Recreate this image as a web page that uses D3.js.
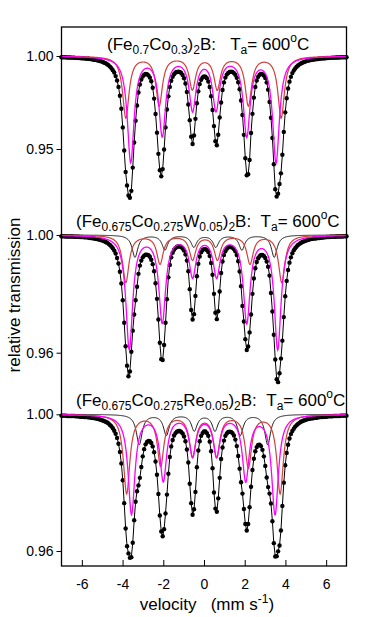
<!DOCTYPE html>
<html>
<head>
<meta charset="utf-8">
<script src="https://cdn.jsdelivr.net/npm/d3@7/dist/d3.min.js"></script>
<style>
  body { margin: 0; background: #fff; }
  text { font-family: "Liberation Sans", Arial, sans-serif; fill: #000; }
</style>
</head>
<body>
<svg id="chart" width="374" height="617"></svg>
<script>
// velocity axis
const xTicks = [-6, -4, -2, 0, 2, 4, 6];

// channel grid of the measured points (mm/s)
const velStart = -7.0;
const velStep = 0.07;

// titles: [text, kind] kind = "" | "sub" | "sup"
const title1 = [["(Fe", ""], ["0.7", "sub"], ["Co", ""], ["0.3", "sub"], [")", ""], ["2", "sub"],
  ["B:\u00A0\u00A0\u00A0T", ""], ["a", "sub"], ["=\u00A0600", ""], ["o", "sup"], ["C", ""]];
const title2 = [["(Fe", ""], ["0.675", "sub"], ["Co", ""], ["0.275", "sub"], ["W", ""], ["0.05", "sub"], [")", ""], ["2", "sub"],
  ["B:\u00A0\u00A0T", ""], ["a", "sub"], ["=\u00A0600", ""], ["o", "sup"], ["C", ""]];
const title3 = [["(Fe", ""], ["0.675", "sub"], ["Co", ""], ["0.275", "sub"], ["Re", ""], ["0.05", "sub"], [")", ""], ["2", "sub"],
  ["B:\u00A0\u00A0T", ""], ["a", "sub"], ["=\u00A0600", ""], ["o", "sup"], ["C", ""]];

// y tick values per panel
const ticks1 = [1.00, 0.95];
const ticks2 = [1.00, 0.96];
const ticks3 = [1.00, 0.96];

// measured relative transmission, one value per channel
const p1Trans = [
  0.9993, 0.9993, 0.9993, 0.9993, 0.9992, 0.9992, 0.9992, 0.9991, 0.9991, 0.9991, 0.9990, 0.9990,
  0.9989, 0.9989, 0.9988, 0.9988, 0.9987, 0.9986, 0.9985, 0.9985, 0.9984, 0.9983, 0.9981, 0.9980,
  0.9979, 0.9977, 0.9975, 0.9973, 0.9971, 0.9968, 0.9964, 0.9961, 0.9956, 0.9950, 0.9943, 0.9935,
  0.9924, 0.9911, 0.9892, 0.9868, 0.9834, 0.9786, 0.9716, 0.9616, 0.9492, 0.9376, 0.9304, 0.9250,
  0.9238, 0.9275, 0.9400, 0.9535, 0.9652, 0.9734, 0.9804, 0.9847, 0.9874, 0.9890, 0.9899, 0.9903,
  0.9902, 0.9896, 0.9884, 0.9864, 0.9829, 0.9771, 0.9688, 0.9588, 0.9474, 0.9386, 0.9353, 0.9392,
  0.9497, 0.9616, 0.9712, 0.9783, 0.9834, 0.9867, 0.9888, 0.9902, 0.9911, 0.9914, 0.9916, 0.9914,
  0.9909, 0.9898, 0.9880, 0.9852, 0.9807, 0.9739, 0.9655, 0.9566, 0.9527, 0.9573, 0.9662, 0.9746,
  0.9810, 0.9849, 0.9872, 0.9885, 0.9890, 0.9889, 0.9880, 0.9863, 0.9833, 0.9784, 0.9710, 0.9623,
  0.9542, 0.9520, 0.9577, 0.9669, 0.9750, 0.9817, 0.9858, 0.9884, 0.9900, 0.9909, 0.9914, 0.9916,
  0.9914, 0.9908, 0.9899, 0.9883, 0.9859, 0.9821, 0.9761, 0.9683, 0.9576, 0.9450, 0.9359, 0.9364,
  0.9441, 0.9586, 0.9689, 0.9776, 0.9834, 0.9868, 0.9888, 0.9899, 0.9903, 0.9902, 0.9895, 0.9882,
  0.9858, 0.9819, 0.9753, 0.9668, 0.9559, 0.9418, 0.9284, 0.9244, 0.9260, 0.9312, 0.9369, 0.9469,
  0.9592, 0.9697, 0.9773, 0.9825, 0.9862, 0.9888, 0.9908, 0.9922, 0.9933, 0.9942, 0.9949, 0.9955,
  0.9960, 0.9964, 0.9967, 0.9970, 0.9973, 0.9975, 0.9977, 0.9978, 0.9980, 0.9981, 0.9982, 0.9983,
  0.9984, 0.9985, 0.9986, 0.9987, 0.9987, 0.9988, 0.9989, 0.9989, 0.9990, 0.9990, 0.9991, 0.9991,
  0.9991, 0.9992, 0.9992, 0.9992, 0.9993, 0.9993, 0.9993, 0.9993, 0.9993
];
const p2Trans = [
  0.9996, 0.9996, 0.9996, 0.9995, 0.9995, 0.9995, 0.9995, 0.9995, 0.9995, 0.9994, 0.9994, 0.9994,
  0.9994, 0.9993, 0.9993, 0.9993, 0.9992, 0.9992, 0.9992, 0.9991, 0.9990, 0.9990, 0.9989, 0.9988,
  0.9987, 0.9986, 0.9985, 0.9984, 0.9982, 0.9981, 0.9979, 0.9976, 0.9974, 0.9970, 0.9966, 0.9961,
  0.9955, 0.9947, 0.9937, 0.9922, 0.9903, 0.9875, 0.9835, 0.9778, 0.9702, 0.9622, 0.9556, 0.9520,
  0.9536, 0.9603, 0.9675, 0.9730, 0.9778, 0.9824, 0.9868, 0.9896, 0.9913, 0.9924, 0.9930, 0.9933,
  0.9933, 0.9931, 0.9926, 0.9916, 0.9901, 0.9877, 0.9836, 0.9783, 0.9713, 0.9634, 0.9578, 0.9575,
  0.9626, 0.9702, 0.9782, 0.9856, 0.9898, 0.9924, 0.9940, 0.9950, 0.9956, 0.9960, 0.9961, 0.9961,
  0.9959, 0.9954, 0.9947, 0.9934, 0.9913, 0.9877, 0.9816, 0.9745, 0.9713, 0.9731, 0.9793, 0.9860,
  0.9902, 0.9927, 0.9941, 0.9949, 0.9952, 0.9952, 0.9949, 0.9942, 0.9929, 0.9905, 0.9865, 0.9800,
  0.9736, 0.9714, 0.9741, 0.9808, 0.9871, 0.9910, 0.9932, 0.9945, 0.9953, 0.9958, 0.9959, 0.9959,
  0.9957, 0.9952, 0.9945, 0.9932, 0.9911, 0.9876, 0.9826, 0.9759, 0.9706, 0.9646, 0.9609, 0.9621,
  0.9669, 0.9730, 0.9800, 0.9852, 0.9887, 0.9908, 0.9921, 0.9928, 0.9932, 0.9932, 0.9929, 0.9922,
  0.9910, 0.9892, 0.9862, 0.9803, 0.9740, 0.9661, 0.9577, 0.9510, 0.9500, 0.9530, 0.9580, 0.9641,
  0.9721, 0.9792, 0.9844, 0.9881, 0.9906, 0.9924, 0.9938, 0.9948, 0.9955, 0.9961, 0.9966, 0.9970,
  0.9973, 0.9976, 0.9978, 0.9980, 0.9982, 0.9983, 0.9985, 0.9986, 0.9987, 0.9988, 0.9988, 0.9989,
  0.9990, 0.9990, 0.9991, 0.9991, 0.9992, 0.9992, 0.9993, 0.9993, 0.9993, 0.9994, 0.9994, 0.9994,
  0.9994, 0.9995, 0.9995, 0.9995, 0.9995, 0.9995, 0.9996, 0.9996, 0.9996
];
const p3Trans = [
  0.9996, 0.9996, 0.9996, 0.9996, 0.9995, 0.9995, 0.9995, 0.9995, 0.9995, 0.9995, 0.9994, 0.9994,
  0.9994, 0.9993, 0.9993, 0.9993, 0.9992, 0.9992, 0.9992, 0.9991, 0.9991, 0.9990, 0.9989, 0.9989,
  0.9988, 0.9987, 0.9986, 0.9985, 0.9983, 0.9982, 0.9980, 0.9978, 0.9976, 0.9973, 0.9969, 0.9965,
  0.9959, 0.9952, 0.9943, 0.9931, 0.9914, 0.9890, 0.9856, 0.9807, 0.9740, 0.9666, 0.9614, 0.9593,
  0.9580, 0.9582, 0.9624, 0.9690, 0.9744, 0.9775, 0.9792, 0.9814, 0.9846, 0.9877, 0.9898, 0.9912,
  0.9919, 0.9922, 0.9921, 0.9916, 0.9906, 0.9889, 0.9862, 0.9823, 0.9767, 0.9704, 0.9657, 0.9643,
  0.9664, 0.9710, 0.9765, 0.9826, 0.9875, 0.9906, 0.9925, 0.9938, 0.9945, 0.9949, 0.9951, 0.9951,
  0.9948, 0.9944, 0.9935, 0.9921, 0.9897, 0.9859, 0.9797, 0.9740, 0.9706, 0.9722, 0.9773, 0.9845,
  0.9894, 0.9921, 0.9937, 0.9945, 0.9950, 0.9950, 0.9945, 0.9937, 0.9920, 0.9892, 0.9842, 0.9771,
  0.9724, 0.9715, 0.9754, 0.9814, 0.9869, 0.9903, 0.9923, 0.9937, 0.9944, 0.9948, 0.9949, 0.9948,
  0.9945, 0.9938, 0.9926, 0.9907, 0.9878, 0.9841, 0.9801, 0.9768, 0.9723, 0.9679, 0.9660, 0.9679,
  0.9728, 0.9788, 0.9837, 0.9870, 0.9892, 0.9904, 0.9910, 0.9911, 0.9907, 0.9896, 0.9877, 0.9849,
  0.9815, 0.9787, 0.9768, 0.9739, 0.9687, 0.9623, 0.9584, 0.9585, 0.9599, 0.9616, 0.9660, 0.9732,
  0.9800, 0.9851, 0.9887, 0.9911, 0.9929, 0.9942, 0.9951, 0.9958, 0.9964, 0.9968, 0.9972, 0.9975,
  0.9978, 0.9980, 0.9982, 0.9983, 0.9985, 0.9986, 0.9987, 0.9988, 0.9988, 0.9989, 0.9990, 0.9990,
  0.9991, 0.9992, 0.9992, 0.9992, 0.9993, 0.9993, 0.9993, 0.9994, 0.9994, 0.9994, 0.9994, 0.9995,
  0.9995, 0.9995, 0.9995, 0.9995, 0.9996, 0.9996, 0.9996, 0.9996, 0.9996
];

// fitted sub-spectra: sextet lines [velocity, depth]
const p1Magenta = [[-3.60, 0.0565], [-2.05, 0.0420], [-0.56, 0.0280], [0.59, 0.0280], [2.10, 0.0420], [3.54, 0.0565]];
const p1Red     = [[-3.84, 0.0330], [-2.20, 0.0262], [-0.57, 0.0174], [0.65, 0.0174], [2.18, 0.0262], [3.79, 0.0330]];

const p2Magenta = [[-3.67, 0.0385], [-2.05, 0.0292], [-0.56, 0.0135], [0.62, 0.0135], [2.10, 0.0292], [3.62, 0.0385]];
const p2Red     = [[-3.84, 0.0160], [-2.16, 0.0096], [-0.56, 0.0082], [0.66, 0.0082], [2.26, 0.0096], [3.82, 0.0160]];
const p2Black   = [[-3.39, 0.0075], [-1.92, 0.0050], [-0.50, 0.0040], [0.58, 0.0040], [1.86, 0.0050], [3.45, 0.0075]];

const p3Magenta = [[-3.56, 0.0290], [-2.00, 0.0190], [-0.56, 0.0117], [0.62, 0.0117], [2.05, 0.0190], [3.49, 0.0290]];
const p3Red     = [[-3.80, 0.0230], [-2.13, 0.0148], [-0.56, 0.0120], [0.62, 0.0120], [2.18, 0.0152], [3.74, 0.0230]];
const p3Black   = [[-3.18, 0.0088], [-1.85, 0.0060], [-0.48, 0.0047], [0.54, 0.0047], [1.78, 0.0060], [3.13, 0.0088]];

const svg = d3.select("#chart");
const x = d3.scaleLinear().domain([-7, 7]).range([61.5, 346.5]);
const FONT = '"Liberation Sans", Arial, sans-serif';

// Lorentzian sextet, returns transmission
function sextet(lines, hw, v) {
  let a = 0;
  lines.forEach(l => { const d = v - l[0]; a += l[1] * hw * hw / (d * d + hw * hw); });
  return 1 - a;
}

const panels = [
  { title: title1, tx: 107, ty: 50, ticks: ticks1, domain: [0.95, 1.00], range: [149, 56], trans: p1Trans,
    comps: [{ lines: p1Red, hw: 0.19, color: "#d2413a", w: 1.2 }, { lines: p1Magenta, hw: 0.2, color: "#ff00ff", w: 1.3 }] },
  { title: title2, tx: 76, ty: 227, ticks: ticks2, domain: [0.96, 1.00], range: [352.7, 235], trans: p2Trans,
    comps: [{ lines: p2Black, hw: 0.17, color: "#000", w: 0.9 }, { lines: p2Red, hw: 0.19, color: "#d2413a", w: 1.2 },
            { lines: p2Magenta, hw: 0.2, color: "#ff00ff", w: 1.3 }] },
  { title: title3, tx: 76, ty: 406, ticks: ticks3, domain: [0.96, 1.00], range: [551, 414.3], trans: p3Trans,
    comps: [{ lines: p3Black, hw: 0.17, color: "#000", w: 0.9 }, { lines: p3Red, hw: 0.19, color: "#d2413a", w: 1.2 },
            { lines: p3Magenta, hw: 0.2, color: "#ff00ff", w: 1.3 }] }
];

const fine = d3.range(-7, 7.001, 0.02);

panels.forEach(p => {
  const y = d3.scaleLinear().domain(p.domain).range(p.range);
  const pts = p.trans.map((t, i) => [velStart + i * velStep, t]);

  // measured points
  svg.append("g").selectAll("circle").data(pts).join("circle")
    .attr("cx", d => x(d[0])).attr("cy", d => y(d[1])).attr("r", 2.2).attr("fill", "#000");

  // total fit
  svg.append("path").datum(pts)
    .attr("fill", "none").attr("stroke", "#000").attr("stroke-width", 1)
    .attr("d", d3.line().x(d => x(d[0])).y(d => y(d[1])));

  // sub-spectra
  p.comps.forEach(c => {
    const curve = fine.map(v => [v, sextet(c.lines, c.hw, v)]);
    svg.append("path").datum(curve)
      .attr("fill", "none").attr("stroke", c.color).attr("stroke-width", c.w)
      .attr("d", d3.line().x(d => x(d[0])).y(d => y(d[1])));
  });

  // y axis ticks
  const ax = svg.append("g").attr("transform", "translate(61.5,0)")
    .call(d3.axisLeft(y).tickValues(p.ticks).tickSize(5).tickPadding(3).tickFormat(d3.format(".2f")));
  ax.select(".domain").remove();
  ax.selectAll("text").style("font-size", "14px").style("font-family", FONT);

  // title
  const t = svg.append("text").attr("x", p.tx).attr("y", p.ty).style("font-size", "17px");
  let shift = 0;
  p.title.forEach(([s, kind]) => {
    const target = kind === "sub" ? 4 : kind === "sup" ? -8 : 0;
    t.append("tspan").attr("dy", target - shift)
      .style("font-size", kind ? "12px" : "17px").text(s);
    shift = target;
  });
});

// x axis
const xa = svg.append("g").attr("transform", "translate(0,566)")
  .call(d3.axisBottom(x).tickValues(xTicks).tickSize(-6).tickPadding(13).tickFormat(d => d));
xa.select(".domain").remove();
xa.selectAll("text").style("font-size", "14px").style("font-family", FONT);

// frame
svg.append("rect").attr("x", 61.5).attr("y", 27).attr("width", 285).attr("height", 539)
  .attr("fill", "none").attr("stroke", "#000").attr("stroke-width", 1.3);

// axis titles
svg.append("text").attr("transform", "translate(19.5,295) rotate(-90)").attr("text-anchor", "middle")
  .style("font-size", "17px").text("relative transmission");

const xt = svg.append("text").attr("x", 207).attr("y", 610).attr("text-anchor", "middle").style("font-size", "17px");
xt.append("tspan").text("velocity\u00A0\u00A0\u00A0(mm s");
xt.append("tspan").attr("dy", -7).style("font-size", "12px").text("-1");
xt.append("tspan").attr("dy", 7).text(")");
</script>
</body>
</html>
